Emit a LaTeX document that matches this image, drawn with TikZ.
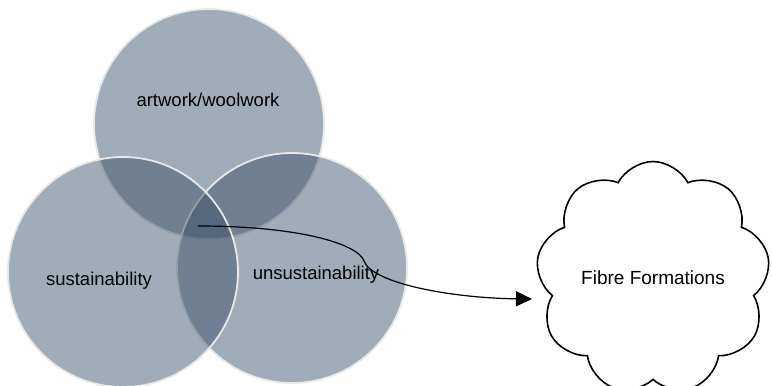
\documentclass[tikz,border=0pt]{standalone}
\usepackage{fontspec}
\setmainfont{Liberation Sans}
\usetikzlibrary{shapes.symbols,arrows.meta}
\definecolor{venn}{RGB}{55,80,103}
\definecolor{vennline}{RGB}{232,232,232}
\tikzset{
  vcircle/.style={circle, minimum size=230pt, inner sep=0pt, fill=venn, fill opacity=0.474, draw=vennline, draw opacity=1, line width=1.8pt},
  vlabel/.style={font=\fontsize{18.5}{22}\selectfont, text=black, inner sep=0pt},
  cloudbox/.style={cloud, draw=black, line width=1.6pt, cloud puffs=9, cloud puff arc=125, minimum width=234pt, minimum height=210pt, inner sep=0pt, font=\fontsize{19}{22}\selectfont},
  link/.style={draw=black, line width=1.2pt, -{Triangle[length=16pt,width=15pt]}}
}
\begin{document}
\begin{tikzpicture}[x=1pt,y=-1pt]
\useasboundingbox (0,0) rectangle (772,386);
\node[vcircle] (top) at (209,124) {};
\node[vcircle] (right) at (292,268) {};
\node[vcircle] (left) at (123,272) {};
\node[vlabel] (lt) at (208,100) {artwork/woolwork};
\node[vlabel] (ll) at (99,281) {sustainability};
\node[vlabel] (lr) at (316,275) {unsustainability};
\node[cloudbox, shape border rotate=15] (cl) at (653,278) {Fibre Formations};
\coordinate (start) at (198,226);
\coordinate (kink) at (364,261);
\coordinate (tip) at (532,299);
\draw[line width=1.2pt] (start) .. controls (300,226) and (358,244) .. (kink);
\draw[link] (kink) .. controls (372,283) and (450,298) .. (tip);
\end{tikzpicture}
\end{document}
